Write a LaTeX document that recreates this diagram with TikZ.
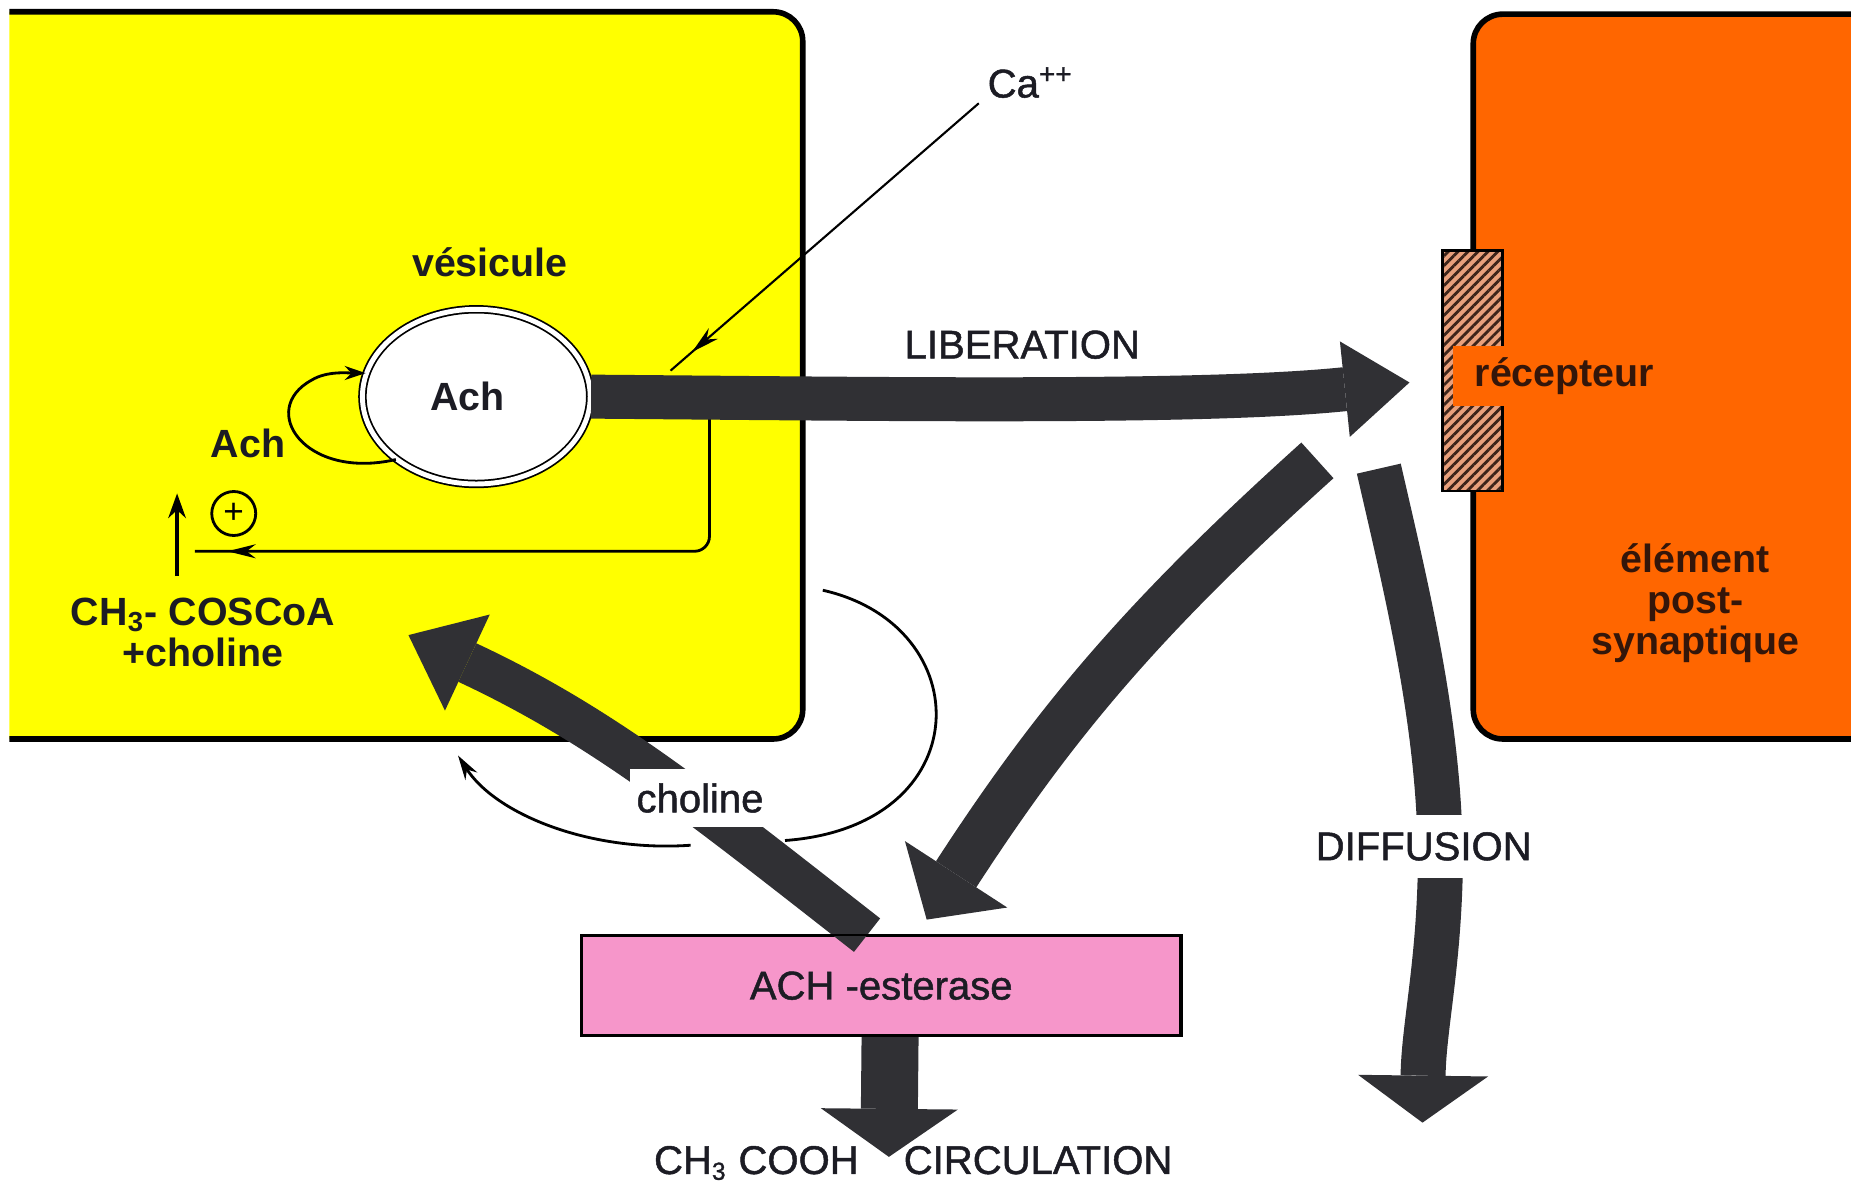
\documentclass[tikz,border=0pt]{standalone}
\usepackage{fontspec}
\setmainfont{Liberation Sans}
\newfontfamily\capsfont{Liberation Sans}[FakeBold=1.2]
\usepackage{tikz}
\usetikzlibrary{arrows.meta,patterns.meta,decorations.markings,shapes.geometric,calc}

\definecolor{presyn}{RGB}{255,255,0}
\definecolor{postsyn}{RGB}{255,102,0}
\definecolor{enzpink}{RGB}{246,150,202}
\definecolor{recbg}{RGB}{232,160,124}
\definecolor{hatchbrown}{RGB}{60,35,25}
\definecolor{arrowgray}{RGB}{48,48,52}
\definecolor{textbrown}{RGB}{52,22,10}
\definecolor{inkdark}{RGB}{28,28,36}

\tikzset{
  boldlbl/.style={font=\fontsize{11.2}{11.6}\selectfont\bfseries, text=inkdark},
  plainlbl/.style={font=\capsfont\fontsize{11.4}{13}\selectfont, text=inkdark},
  membrane/.style={draw=black, line width=1.6pt},
  thinline/.style={draw=black, line width=0.8pt},
  flux/.style n args={3}{draw=arrowgray, line width=#1,
    -{Triangle[length=#2, width=#3, line width=0pt]}},
  midarrow/.style={postaction={decorate}, decoration={markings,
    mark=at position #1 with {\arrow{Stealth[length=8pt,width=4pt]}}}}
}

\begin{document}
\begin{tikzpicture}[x=1.1805cm, y=1.1805cm]
    \useasboundingbox (0,0) rectangle (15.68,10.02);

    % Presynaptic terminal
    \fill[presyn] (0.08,3.76) -- (0.08,9.92) -- (6.55,9.92)
        arc[start angle=90, end angle=0, radius=0.25] -- (6.80,4.01)
        arc[start angle=0, end angle=-90, radius=0.25] -- cycle;
    \draw[membrane] (0.08,9.92) -- (6.55,9.92)
        arc[start angle=90, end angle=0, radius=0.25] -- (6.80,4.01)
        arc[start angle=0, end angle=-90, radius=0.25] -- (0.08,3.76);

    % Postsynaptic element
    \fill[postsyn] (15.68,9.90) -- (12.73,9.90)
        arc[start angle=90, end angle=180, radius=0.25] -- (12.48,4.01)
        arc[start angle=180, end angle=270, radius=0.25] -- (15.68,3.76) -- cycle;
    \draw[membrane] (15.68,9.90) -- (12.73,9.90)
        arc[start angle=90, end angle=180, radius=0.25] -- (12.48,4.01)
        arc[start angle=180, end angle=270, radius=0.25] -- (15.68,3.76);

    % Receptor
    \draw[thinline, preaction={fill=recbg}, pattern color=hatchbrown,
        pattern={Lines[angle=45, distance=2pt, line width=0.8pt]}]
        (12.22,5.86) rectangle (12.73,7.90);
    \node[boldlbl, text=textbrown, fill=postsyn, anchor=west,
        minimum height=0.58cm, inner xsep=0.22cm] (rec) at (12.30,6.835) {récepteur};
    \node[boldlbl, text=textbrown, align=center] (post) at (14.36,4.91) {élément\\post-\\synaptique};

    % Feedback on synthesis
    \coordinate (fbtop) at (6.01,6.60);
    \coordinate (fbend) at (1.65,5.35);
    \draw[thinline, rounded corners=0.15cm, midarrow=0.95] (fbtop) -- (6.01,5.35) -- (fbend);

    % Vesicle
    \node[ellipse, draw=black, double=white, double distance=1.4pt, line width=0.5pt,
        fill=white, minimum width=2.278cm, minimum height=1.747cm, inner sep=0pt] (ves) at (4.035,6.66) {};
    \node[boldlbl] (vesach) at (3.96,6.66) {Ach};
    \node[boldlbl] (veslbl) at (4.15,7.80) {vésicule};

    % Liberation
    \coordinate (libtip) at (11.94,6.78);
    \draw[flux={0.44cm}{0.65cm}{0.96cm}] (ves.east) .. controls (7.5,6.64) and (10.2,6.60) .. (libtip);
    \node[plainlbl] (liblbl) at (8.66,7.10) {LIBERATION};

    % Reuptake loop into the vesicle
    \draw[thinline, -{Stealth[length=6pt,width=4pt]}] (ves.218)
        .. controls (2.58,5.95) and (2.18,6.55) .. (2.64,6.80)
        .. controls (2.77,6.88) and (2.95,6.86) .. (ves.168);
    \node[boldlbl] (loopach) at (2.10,6.26) {Ach};

    % Synthesis
    \node[circle, thinline, minimum size=0.44cm, inner sep=0pt,
        font=\fontsize{10}{10}\selectfont] (plus) at (1.98,5.67) {+};
    \node[boldlbl, align=center] (acetyl) at (1.72,4.66) {CH\textsubscript{3}- COSCoA\\+choline};
    \coordinate (upfoot) at (1.50,5.14);
    \coordinate (uphead) at (1.50,5.84);
    \draw[line width=1pt, -{Stealth[length=7pt,width=5pt]}] (upfoot) -- (uphead);

    % Calcium entry
    \node[plainlbl] (ca) at (8.73,9.32) {Ca\textsuperscript{++}};
    \coordinate (cahit) at (5.68,6.88);
    \draw[line width=0.6pt, midarrow=0.93] ([xshift=1pt,yshift=2pt]ca.south west) -- (cahit);

    % Esterase
    \node[draw=black, line width=0.6pt, fill=enzpink, minimum width=5.985cm, minimum height=0.99cm,
        plainlbl] (est) at (7.465,1.67) {ACH -esterase};

    % Arcs round the choline recapture
    \draw[thinline] (6.97,5.02) .. controls (8.30,4.72) and (8.30,3.02) .. (6.65,2.90);
    \draw[thinline, -{Stealth[length=7pt,width=4pt]}] (5.85,2.86)
        .. controls (5.00,2.80) and (4.20,3.12) .. (3.88,3.62);

    % Choline recapture
    \coordinate (choltip) at (3.46,4.64);
    \draw[flux={0.425cm}{0.65cm}{1.06cm}] ($(est.north)+(-0.12,0)$) to[out=142, in=-25] (choltip);
    \node[plainlbl, fill=white, inner xsep=2pt, inner ysep=4pt] (chollbl) at (5.93,3.26) {choline};

    % Towards the esterase
    \coordinate (esttop) at (11.16,6.12);
    \coordinate (esttip) at (7.85,2.23);
    \draw[flux={0.48cm}{0.54cm}{1.22cm}] (esttop) to[out=-138, in=57] (esttip);

    % Diffusion
    \coordinate (difftop) at (11.68,6.05);
    \coordinate (difftip) at (12.05,0.51);
    \draw[flux={0.45cm}{0.47cm}{1.30cm}] (difftop) .. controls (11.92,5.0) and (12.22,3.8) .. (12.2,2.6)
        .. controls (12.18,1.8) and (12.06,1.3) .. (difftip);
    \node[plainlbl, fill=white, inner xsep=2pt, inner ysep=5pt] (difflbl) at (12.06,2.85) {DIFFUSION};

    % Hydrolysis products
    \coordinate (acidtip) at (7.53,0.22);
    \draw[flux={0.57cm}{0.48cm}{1.37cm}] ($(est.south)+(0.075,0)$) -- (acidtip);
    \draw[draw=black, line width=0.6pt] (est.south west) rectangle (est.north east);
    \node[plainlbl, anchor=base east, inner xsep=0pt] (acid) at (7.28,0.075) {CH\textsubscript{\scriptsize 3} COOH};
    \node[plainlbl, anchor=base west, inner xsep=0pt] (circ) at (7.65,0.075) {CIRCULATION};
\end{tikzpicture}
\end{document}
